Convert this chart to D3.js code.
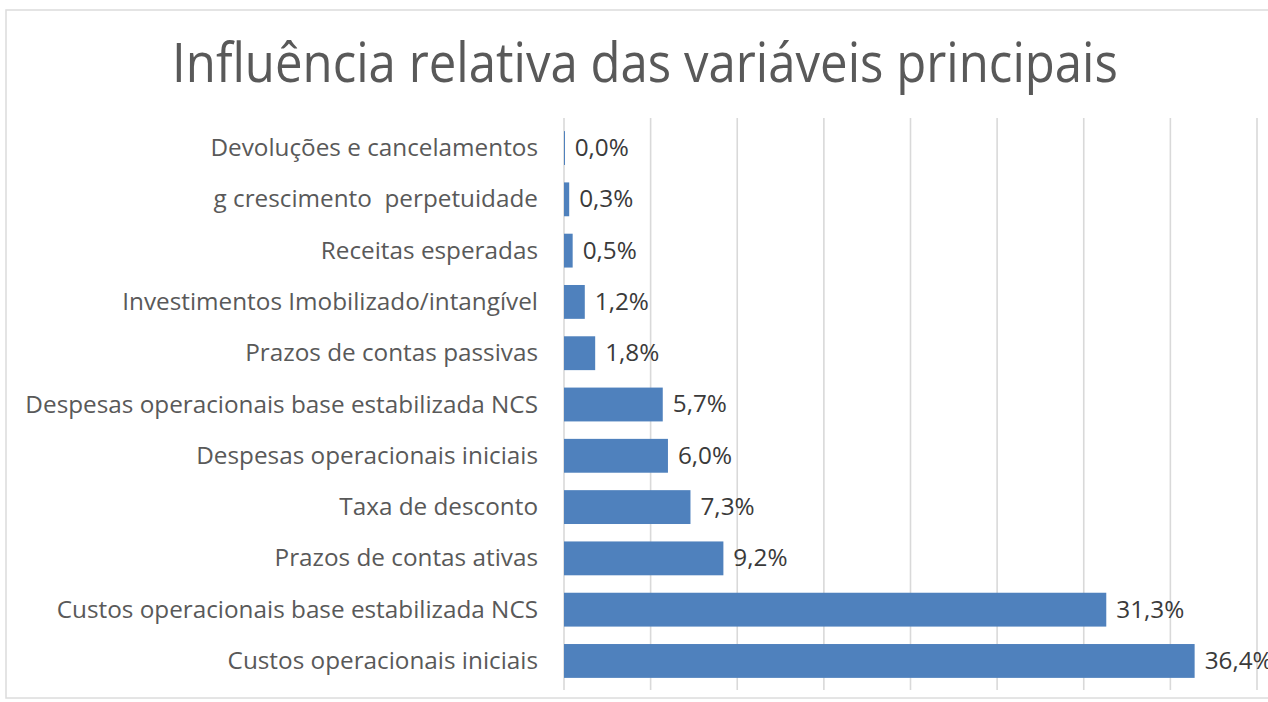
<!DOCTYPE html>
<html lang="pt">
<head>
<meta charset="UTF-8">
<title>Influência relativa das variáveis principais</title>
<script src="https://d3js.org/d3.v7.min.js"></script>
<style>
  body { margin: 0; background: #fff; }
  text { font-family: "Open Sans", "Noto Sans", sans-serif; white-space: pre; }
</style>
</head>
<body>
<div id="chart"></div>
<script>
// data, top to bottom as in the chart
const categories = [
  "Devoluções e cancelamentos",
  "g crescimento  perpetuidade",
  "Receitas esperadas",
  "Investimentos Imobilizado/intangível",
  "Prazos de contas passivas",
  "Despesas operacionais base estabilizada NCS",
  "Despesas operacionais iniciais",
  "Taxa de desconto",
  "Prazos de contas ativas",
  "Custos operacionais base estabilizada NCS",
  "Custos operacionais iniciais"
];
const values = [0.04, 0.3, 0.5, 1.2, 1.8, 5.7, 6.0, 7.3, 9.2, 31.3, 36.4];
const xTicks = [0, 5, 10, 15, 20, 25, 30, 35, 40];
const title = "Influência relativa das variáveis principais";

const W = 1268, H = 702;
const svg = d3.select("#chart").append("svg")
  .attr("width", W).attr("height", H);

// chart frame
svg.append("rect")
  .attr("x", 6).attr("y", 10)
  .attr("width", 1300).attr("height", 688)
  .attr("fill", "#fff")
  .attr("stroke", "#dcdcdc").attr("stroke-width", 1.5);

const x = d3.scaleLinear().domain([0, 40]).range([564, 1257]);
const y = d3.scaleBand().domain(categories)
  .range([122.4, 686.6]).paddingInner(0.34).paddingOuter(0.17);

// gridlines
svg.append("g").selectAll("line").data(xTicks).join("line")
  .attr("x1", d => x(d)).attr("x2", d => x(d))
  .attr("y1", 118).attr("y2", 690)
  .attr("stroke", "#d9d9d9").attr("stroke-width", 1.6);

// bars
const rows = categories.map((c, i) => ({ cat: c, val: values[i] }));
svg.append("g").selectAll("rect").data(rows).join("rect")
  .attr("x", x(0))
  .attr("y", d => y(d.cat))
  .attr("width", d => Math.max(1, x(d.val) - x(0)))
  .attr("height", y.bandwidth())
  .attr("fill", "#4f81bd");

// value labels
const fmt = d => d3.format(".1f")(d).replace(".", ",") + "%";
const valLabels = svg.append("g").selectAll("text").data(rows).join("text")
  .attr("x", d => x(d.val) + 10)
  .attr("y", d => y(d.cat) + y.bandwidth() / 2 + 8)
  .attr("font-size", 23.5)
  .attr("fill", "#3a3a3a")
  .text(d => fmt(d.val));

// category labels (right aligned)
const catLabels = svg.append("g").selectAll("text").data(rows).join("text")
  .attr("text-anchor", "end")
  .attr("font-size", 23.5)
  .attr("fill", "#595959")
  .text(d => d.cat);

// squeeze the text horizontally to fit a Calibri-like width
const longest = d3.max(catLabels.nodes(), n => n.getComputedTextLength());
const sx = 513 / longest;
catLabels.attr("transform", d =>
  `translate(538,${y(d.cat) + y.bandwidth() / 2 + 8}) scale(${sx},1)`);
valLabels.attr("transform", d => {
  const px = x(d.val) + 10;
  return `translate(${px - px * sx},0) scale(${sx},1)`;
});

// title
const t = svg.append("text")
  .attr("text-anchor", "middle")
  .attr("font-size", 54)
  .attr("fill", "#595959")
  .text(title);
const tw = t.node().getComputedTextLength();
t.attr("transform", `translate(645,82) scale(${946 / tw},1)`);
</script>
</body>
</html>
